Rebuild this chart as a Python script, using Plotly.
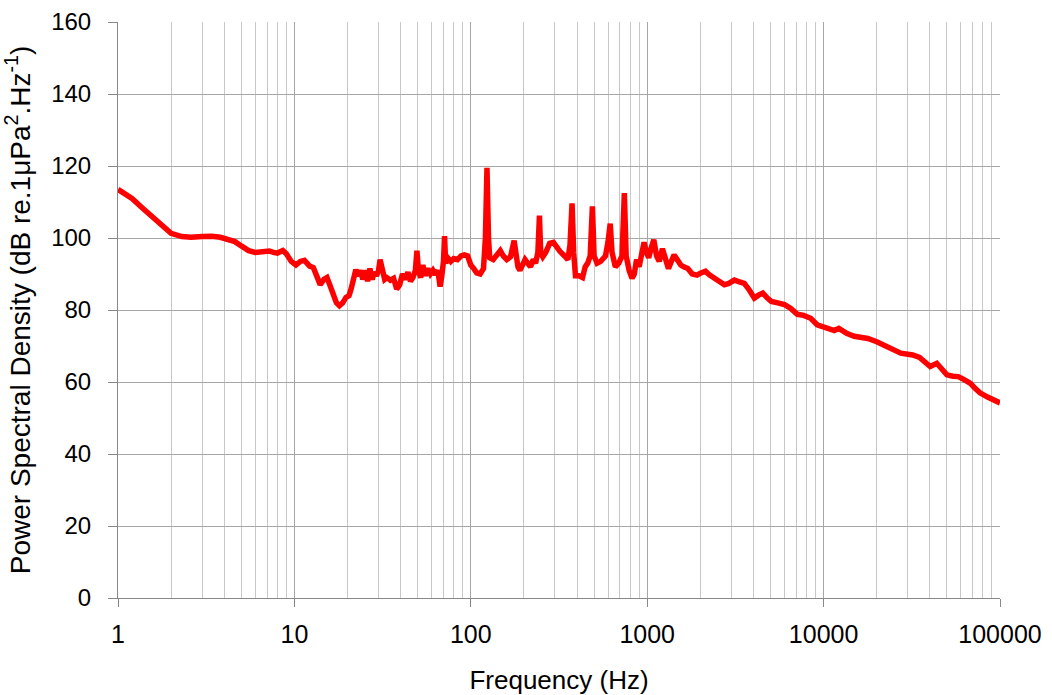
import plotly.graph_objects as go

freq = [1, 1.2, 1.4, 1.6, 1.8, 2.0, 2.3, 2.6, 3.0, 3.4, 3.8, 4.2, 4.6, 5.0, 5.5, 6.0, 6.6, 7.2, 7.6, 8.0,
        8.6, 9.0, 9.6, 10.2, 10.8, 11.4, 12.2, 12.8, 13.5, 14.0, 14.7, 15.3, 16.0, 16.6, 17.3, 18.0, 18.8,
        19.6, 20.4, 21.0, 21.6, 22.3, 23.0, 23.7, 24.4, 25.2, 26.0, 26.8, 27.6, 28.4, 29.2, 30.0, 30.6,
        31.4, 32.5, 33.5, 35, 36.5, 38, 39.5, 41, 42.5, 44, 45.5, 47, 48.5, 49.5, 50.5, 52, 53.5, 55, 57,
        59, 61, 63, 65, 67, 68.5, 70, 71, 72, 74, 77, 80, 84, 88, 92, 96, 100, 104, 108, 113, 118, 121,
        123.5, 126, 128, 134, 140, 147, 153, 160, 168, 173, 176, 180, 185, 190, 196, 203, 210, 218, 226,
        233, 240, 245, 249, 256, 266, 280, 294, 305, 320, 340, 355, 365, 375, 383, 392, 410, 430, 445,
        460, 475, 489, 500, 520, 545, 580, 600, 617, 632, 660, 690, 720, 742, 760, 790, 820, 845, 870,
        900, 930, 960, 990, 1020, 1050, 1090, 1130, 1170, 1220, 1270, 1320, 1370, 1420, 1480, 1550, 1610,
        1700, 1800, 1915, 2000, 2140, 2250, 2390, 2550, 2740, 2900, 3120, 3300, 3550, 3800, 4050, 4300,
        4520, 4800, 5050, 5500, 6000, 6490, 7100, 7700, 8450, 9200, 10000, 10900, 11500, 12200, 13500,
        14900, 16000, 17800, 20000, 23000, 25000, 27400, 30000, 32000, 35000, 37500, 40200, 43800,
        47000, 50000, 54000, 58000, 63000, 68000, 72000, 77000, 85000, 92000, 100000]

psd = [113.5, 111, 108, 105.5, 103, 101.3, 100.4, 100.2, 100.4, 100.5, 100.2, 99.7, 99, 97.8, 96.5, 96,
       96.2, 96.4, 96, 95.8, 96.5, 95.6, 93.5, 92.5, 93.5, 93.8, 92.2, 91.8, 89, 87, 88.5, 89, 86.5, 84.5,
       82, 81.2, 82, 83.5, 84, 86, 89.5, 91.2, 89.5, 91, 88.5, 91, 88, 91.5, 88.5, 90.5, 89.5, 91, 94,
       91, 88.5, 89, 88.3, 88.8, 85.8, 87, 90, 88.5, 90.5, 88, 89, 91, 96.5, 91, 89, 92.5, 89.5, 91.5,
       90, 91, 89.8, 91, 86.5, 89.5, 93.5, 100.5, 93, 94.5, 93.5, 94.3, 94, 95, 95.3, 95, 92.5, 91.5,
       90.3, 90, 91.5, 100, 119.5, 100, 94.5, 94, 95.5, 96.5, 95, 94, 94.8, 98, 99.3, 96, 92, 91, 92.5,
       94, 93, 92, 94, 93, 96, 106.2, 96, 94.8, 96, 98.5, 98.8, 97.5, 96.3, 95, 94, 98, 109.6, 96, 89.5,
       89.5, 89, 92, 93, 95, 108.8, 95, 93, 93.5, 95, 99, 104, 96, 92, 93, 95, 112.5, 95, 91, 88.8, 90,
       94, 92, 95, 98.8, 96, 94.5, 97, 99.5, 95, 93.5, 97, 94, 91.5, 93.5, 95.3, 94, 92.5, 92, 91.5, 90,
       89.7, 90.2, 90.8, 89.8, 88.8, 87.8, 87, 87.4, 88.3, 87.9, 87.4, 85.5, 83.3, 84.2, 84.7, 83.3,
       82.4, 82, 81.5, 80.5, 78.8, 78.5, 77.7, 75.9, 75.3, 74.5, 74.3, 74.9, 73.5, 72.7, 72.5, 72.1,
       71.2, 69.8, 68.8, 68, 67.7, 67.5, 66.8, 65.5, 64.3, 65.2, 63.2, 62, 61.6, 61.5, 60.6, 59.6, 58.3,
       57, 55.8, 55.2, 54.2]

x_ticks = [1, 10, 100, 1000, 10000, 100000]
x_labels = ["1", "10", "100", "1000", "10000", "100000"]
y_ticks = [0, 20, 40, 60, 80, 100, 120, 140, 160]

fig = go.Figure()
fig.add_trace(go.Scatter(x=freq, y=psd, mode="lines",
                         line=dict(color="#FF0000", width=5.5), showlegend=False))

family = "Liberation Sans, Arial, sans-serif"

fig.update_layout(
    width=1052, height=695,
    margin=dict(l=118, r=52, t=22, b=97),
    paper_bgcolor="white", plot_bgcolor="white",
    font=dict(family=family, size=24, color="#000000"),
    xaxis=dict(
        type="log", range=[0, 5],
        tickvals=x_ticks, ticktext=x_labels,
        tickfont=dict(size=25),
        showgrid=True, gridcolor="#A6A6A6", gridwidth=1,
        showline=True, linecolor="#888888", linewidth=1,
        ticks="outside", ticklen=8, tickcolor="#888888",
        ticklabelstandoff=6,
        minor=dict(dtick="D1", showgrid=True, gridcolor="#C8C8C8", gridwidth=1, ticks=""),
        title=dict(text="Frequency (Hz)", standoff=27, font=dict(size=26)),
        zeroline=False, automargin=False,
    ),
    yaxis=dict(
        range=[0, 160], tickvals=y_ticks,
        tickfont=dict(size=24),
        showgrid=True, gridcolor="#A6A6A6", gridwidth=1,
        showline=True, linecolor="#888888", linewidth=1,
        ticks="outside", ticklen=9, tickcolor="#888888",
        ticklabelstandoff=12,
        title=dict(text="Power Spectral Density (dB re.1μPa<sup>2</sup>.Hz<sup>-1</sup>)", standoff=18,
                   font=dict(size=28)),
        zeroline=False, automargin=False,
    ),
)

fig.write_html("out.html")
